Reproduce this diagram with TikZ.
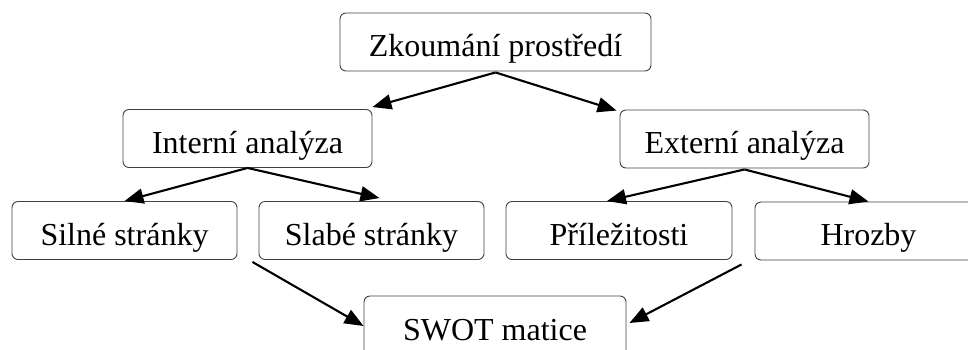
\documentclass[tikz,border=0pt]{standalone}
\usepackage{fontspec}
\setmainfont{Liberation Serif}
\usetikzlibrary{arrows.meta}

\tikzset{
	box/.style={draw=black!75,line width=0.9pt,rounded corners=6pt,minimum height=58pt,inner sep=2pt,text height=29pt,text depth=0pt,font=\fontsize{32}{38}\selectfont},
	arr/.style={-{Triangle[length=19pt,width=15pt]},line width=2.1pt}
}

\begin{document}
\begin{tikzpicture}[x=1pt,y=-1pt]
		\clip (0,0) rectangle (968,349);
		\node[box,minimum width=311pt] (zkoumani) at (495.5,42) {Zkoumání prostředí};
		\node[box,minimum width=249pt] (interni) at (247.5,138.5) {Interní analýza};
		\node[box,minimum width=249pt] (externi) at (744.5,139) {Externí analýza};
		\node[box,minimum width=225pt] (silne) at (124.5,230.5) {Silné stránky};
		\node[box,minimum width=225pt] (slabe) at (371.5,230.5) {Slabé stránky};
		\node[box,minimum width=226pt] (prilez) at (619,230.5) {Příležitosti};
		\node[box,minimum width=227pt] (hrozby) at (868.5,231) {Hrozby};
		\node[box,minimum width=262pt,minimum height=60pt] (swot) at (495,326) {SWOT matice};
		\draw[arr] ([yshift=-1pt]zkoumani.south) -- ([yshift=2pt]interni.north east);
		\draw[arr] ([yshift=-1pt]zkoumani.south) -- ([xshift=-3pt,yshift=-1pt]externi.north west);
		\draw[arr] (interni.south) -- (silne.north);
		\draw[arr] (interni.south) -- ([xshift=8pt,yshift=3pt]slabe.north);
		\draw[arr] ([yshift=-1pt]externi.south) -- ([xshift=-12pt]prilez.north);
		\draw[arr] ([yshift=-1pt]externi.south) -- (hrozby.north);
		\draw[arr] ([xshift=15pt,yshift=-2pt]silne.south east) -- (swot.west);
		\draw[arr] ([xshift=-13pt,yshift=-4pt]hrozby.south west) -- ([xshift=3pt,yshift=3pt]swot.east);
	\end{tikzpicture}
\end{document}
